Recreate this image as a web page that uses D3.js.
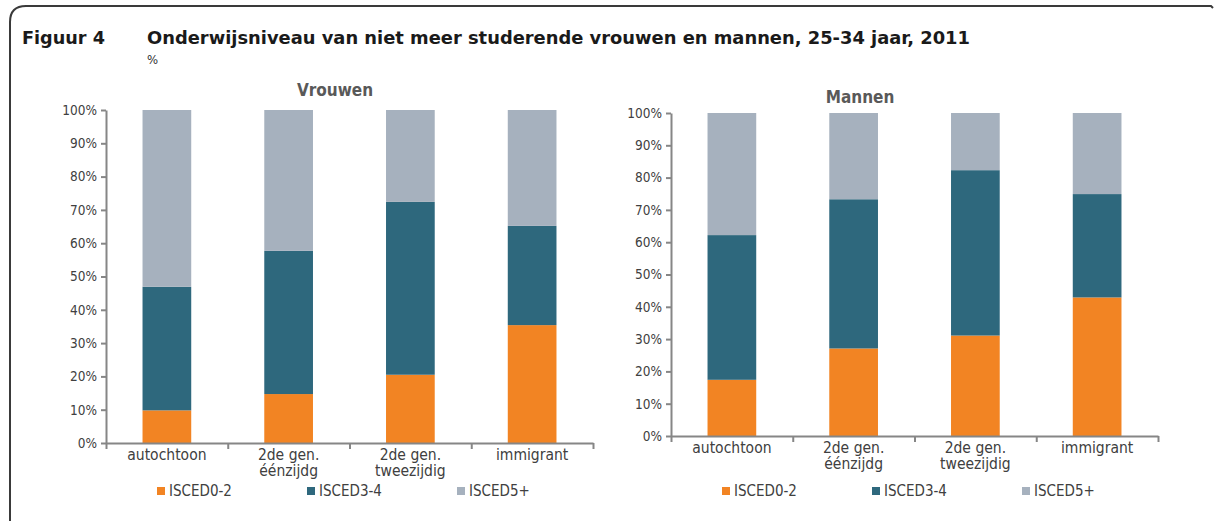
<!DOCTYPE html>
<html>
<head>
<meta charset="utf-8">
<script src="https://cdn.jsdelivr.net/npm/d3@7"></script>
<style>
  body { margin: 0; background: #fff; }
  text { font-family: "DejaVu Sans Condensed", "DejaVu Sans", sans-serif; }
  .axis .domain, .axis line { stroke: #868686; stroke-width: 2; }
  .axis text { fill: #404040; font-size: 13.5px; }
</style>
</head>
<body>
<svg id="chart" width="1215" height="522"></svg>
<script>
'use strict'

// categorieen en waarden (in %)
var categories = ['autochtoon', '2de gen.|éénzijdg', '2de gen.|tweezijdig', 'immigrant']
var levels = ['ISCED0-2', 'ISCED3-4', 'ISCED5+']
var yTicks = [0, 10, 20, 30, 40, 50, 60, 70, 80, 90, 100]

var vrouwenLaag   = [9.8, 14.7, 20.5, 35.4]
var vrouwenMidden = [37.1, 43.0, 51.9, 29.8]
var vrouwenHoog   = [53.1, 42.3, 27.6, 34.8]

var mannenLaag   = [17.4, 27.1, 31.1, 42.9]
var mannenMidden = [44.8, 46.2, 51.2, 32.0]
var mannenHoog   = [37.8, 26.7, 17.7, 25.1]

var colors = ['#f28423', '#2e687d', '#a6b1be']

var svg = d3.select('#chart')

// kader met afgeronde hoek
svg.append('path')
  .attr('d', 'M10,521 L10,22 Q10,6 26,6 L1211,6 L1213,8')
  .attr('fill', 'none')
  .attr('stroke', '#3a3a3a')
  .attr('stroke-width', 2)

svg.append('text')
  .attr('x', 22).attr('y', 44)
  .style('font-weight', 'bold').style('font-size', '18px')
  .attr('fill', '#1a1a1a')
  .attr('textLength', 83).attr('lengthAdjust', 'spacingAndGlyphs')
  .text('Figuur 4')

svg.append('text')
  .attr('x', 147).attr('y', 44)
  .style('font-weight', 'bold').style('font-size', '18px')
  .attr('fill', '#1a1a1a')
  .attr('textLength', 823).attr('lengthAdjust', 'spacingAndGlyphs')
  .text('Onderwijsniveau van niet meer studerende vrouwen en mannen, 25-34 jaar, 2011')

svg.append('text')
  .attr('x', 147).attr('y', 64)
  .style('font-size', '13px').attr('fill', '#333')
  .text('%')

function toRows(laag, midden, hoog) {
  return categories.map((c, i) => ({cat: c, 'ISCED0-2': laag[i], 'ISCED3-4': midden[i], 'ISCED5+': hoog[i]}))
}

var panels = [
  {title: 'Vrouwen', rows: toRows(vrouwenLaag, vrouwenMidden, vrouwenHoog),
   x0: 106, x1: 593, top: 110, bottom: 443, titleX: 335, titleY: 96,
   legendX: [157, 307, 457]},
  {title: 'Mannen', rows: toRows(mannenLaag, mannenMidden, mannenHoog),
   x0: 671, x1: 1158, top: 113, bottom: 436, titleX: 860, titleY: 103,
   legendX: [722, 872, 1022]}
]

var stack = d3.stack().keys(levels)

panels.forEach(p => {
  var x = d3.scaleBand()
    .domain(categories)
    .range([p.x0, p.x1])
    .paddingInner(0.6)
    .paddingOuter(0.3)

  var y = d3.scaleLinear()
    .domain([0, 100])
    .range([p.bottom, p.top])

  var g = svg.append('g')

  g.append('text')
    .attr('x', p.titleX).attr('y', p.titleY)
    .attr('text-anchor', 'middle')
    .style('font-weight', 'bold').style('font-size', '17px')
    .attr('fill', '#595959')
    .text(p.title)

  var series = stack(p.rows)

  g.selectAll('g.layer')
    .data(series)
    .enter()
      .append('g')
      .attr('class', 'layer')
      .attr('fill', (d, i) => colors[i])
    .selectAll('rect')
    .data(d => d)
    .enter()
      .append('rect')
      .attr('x', d => x(d.data.cat))
      .attr('width', x.bandwidth())
      .attr('y', d => y(d[1]))
      .attr('height', d => y(d[0]) - y(d[1]))

  // y-as
  g.append('g')
    .attr('class', 'axis')
    .attr('transform', 'translate(' + p.x0 + ',0)')
    .call(d3.axisLeft(y).tickValues(yTicks).tickFormat(d => d + '%').tickSize(5).tickSizeOuter(0).tickPadding(4))

  // x-as met streepjes tussen categorieen
  var xb = d3.scaleLinear().domain([0, categories.length]).range([p.x0, p.x1])
  g.append('g')
    .attr('class', 'axis')
    .attr('transform', 'translate(0,' + p.bottom + ')')
    .call(d3.axisBottom(xb).tickValues(d3.range(categories.length + 1)).tickFormat('').tickSize(6).tickSizeOuter(0))

  categories.forEach(c => {
    var t = g.append('text')
      .attr('x', x(c) + x.bandwidth() / 2)
      .attr('y', p.bottom + 17)
      .attr('text-anchor', 'middle')
      .style('font-size', '15.5px')
      .attr('fill', '#404040')
    c.split('|').forEach((line, i) => {
      t.append('tspan')
        .attr('x', x(c) + x.bandwidth() / 2)
        .attr('dy', i == 0 ? 0 : 16)
        .text(line)
    })
  })

  // legenda
  levels.forEach((l, i) => {
    g.append('rect')
      .attr('x', p.legendX[i]).attr('y', 487)
      .attr('width', 8).attr('height', 8)
      .attr('fill', colors[i])
    g.append('text')
      .attr('x', p.legendX[i] + 12).attr('y', 496)
      .style('font-size', '15px')
      .attr('fill', '#404040')
      .text(l)
  })
})
</script>
</body>
</html>
